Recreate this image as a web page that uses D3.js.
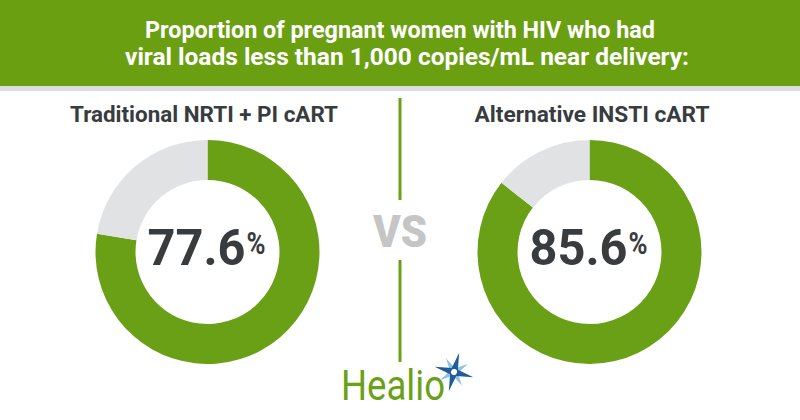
<!DOCTYPE html>
<html>
<head>
<meta charset="utf-8">
<script src="https://cdn.jsdelivr.net/npm/d3@7"></script>
<style>
  html, body { margin: 0; padding: 0; background: #fff; }
  svg { display: block; }
</style>
</head>
<body>
<svg id="chart" width="800" height="420"></svg>
<script>
// ---- data ----
const titleLines = [
  "Proportion of pregnant women with HIV who had",
  "viral loads less than 1,000 copies/mL near delivery:"
];
const groups = ["Traditional NRTI + PI cART", "Alternative INSTI cART"];
const values = [77.6, 85.6];
const vsLabel = "VS";
const brand = "Healio";

// ---- style ----
const green = "#6aa016";
const headerGreen = "#6b9f12";
const grey = "#e1e2e4";
const dark = "#383c3f";

const svg = d3.select("#chart");

// header
svg.append("rect").attr("x", 0).attr("y", 0).attr("width", 800).attr("height", 86).attr("fill", headerGreen);
svg.append("rect").attr("x", 0).attr("y", 86).attr("width", 800).attr("height", 5).attr("fill", "#dddddd");

const titleSpec = [{y: 38, cx: 400, w: 510}, {y: 65, cx: 407, w: 564}];
svg.selectAll("text.title").data(titleLines).join("text")
  .attr("class", "title")
  .attr("x", (d, i) => titleSpec[i].cx)
  .attr("y", (d, i) => titleSpec[i].y)
  .attr("text-anchor", "middle")
  .attr("font-family", "Roboto, sans-serif")
  .attr("font-weight", 700)
  .attr("font-size", 24.5)
  .attr("fill", "#ffffff")
  .attr("textLength", (d, i) => titleSpec[i].w)
  .attr("lengthAdjust", "spacingAndGlyphs")
  .text(d => d);

// layout via ordinal scale
const x = d3.scaleOrdinal().domain(groups).range([207.5, 589.5]);
const cy = 252;
const outerR = 112, innerR = 72;

const pie = d3.pie().sort(null).value(d => d);
const arc = d3.arc().innerRadius(innerR).outerRadius(outerR);

const subW = [268, 235];
const subCx = [204, 592];

groups.forEach((g, i) => {
  const gEl = svg.append("g").attr("transform", `translate(${x(g)},${cy})`);
  const arcs = pie([values[i], 100 - values[i]]);
  gEl.selectAll("path").data(arcs).join("path")
    .attr("d", arc)
    .attr("fill", (d, j) => j === 0 ? green : grey);

  // subtitle
  svg.append("text")
    .attr("x", subCx[i]).attr("y", 122)
    .attr("text-anchor", "middle")
    .attr("font-family", "Roboto, sans-serif")
    .attr("font-weight", 700)
    .attr("font-size", 21.5)
    .attr("fill", dark)
    .attr("textLength", subW[i])
    .attr("lengthAdjust", "spacingAndGlyphs")
    .text(g);

  // value text
  const numW = 98, pctW = 19;
  const total = numW + pctW + 1;
  const left = x(g) - total / 2 - 1;
  gEl.append("text")
    .attr("x", left - x(g)).attr("y", 265 - cy)
    .attr("font-family", "Roboto, sans-serif")
    .attr("font-weight", 700)
    .attr("font-size", 50)
    .attr("fill", dark)
    .attr("textLength", numW)
    .attr("lengthAdjust", "spacingAndGlyphs")
    .text(d3.format(".1f")(values[i]));
  gEl.append("text")
    .attr("x", left - x(g) + numW + 1).attr("y", 254 - cy)
    .attr("font-family", "Roboto, sans-serif")
    .attr("font-weight", 700)
    .attr("font-size", 31)
    .attr("fill", dark)
    .attr("textLength", pctW)
    .attr("lengthAdjust", "spacingAndGlyphs")
    .text("%");
});

// divider + VS
svg.append("line").attr("x1", 400).attr("x2", 400).attr("y1", 98).attr("y2", 200)
  .attr("stroke", green).attr("stroke-width", 3);
svg.append("line").attr("x1", 400).attr("x2", 400).attr("y1", 260).attr("y2", 362)
  .attr("stroke", green).attr("stroke-width", 3);
svg.append("text")
  .attr("x", 400).attr("y", 247)
  .attr("text-anchor", "middle")
  .attr("font-family", "Roboto, sans-serif")
  .attr("font-weight", 900)
  .attr("font-size", 44)
  .attr("fill", "#c5c5c5")
  .attr("textLength", 54)
  .attr("lengthAdjust", "spacingAndGlyphs")
  .text(vsLabel);

// logo
svg.append("text")
  .attr("x", 341).attr("y", 400)
  .attr("font-family", "Roboto, sans-serif")
  .attr("font-weight", 400)
  .attr("font-size", 43)
  .attr("fill", "#6aa118")
  .attr("textLength", 104)
  .attr("lengthAdjust", "spacingAndGlyphs")
  .text(brand);

// star mark
const star = svg.append("g").attr("transform", "translate(454,372) rotate(15)");
const pts = (r1, r2, n, rot) => d3.range(n * 2).map(k => {
  const a = rot + k * Math.PI / n;
  const r = k % 2 === 0 ? r1 : r2;
  return [r * Math.sin(a), -r * Math.cos(a)];
});
star.append("path")
  .attr("d", d3.line()(pts(16, 4, 4, Math.PI / 4)) + "Z")
  .attr("fill", "#8cc3e6");
star.append("path")
  .attr("d", d3.line()(pts(20, 4.5, 4, 0)) + "Z")
  .attr("fill", "#1f5c99");
star.append("circle").attr("r", 3).attr("fill", "#ffffff");
</script>
</body>
</html>
